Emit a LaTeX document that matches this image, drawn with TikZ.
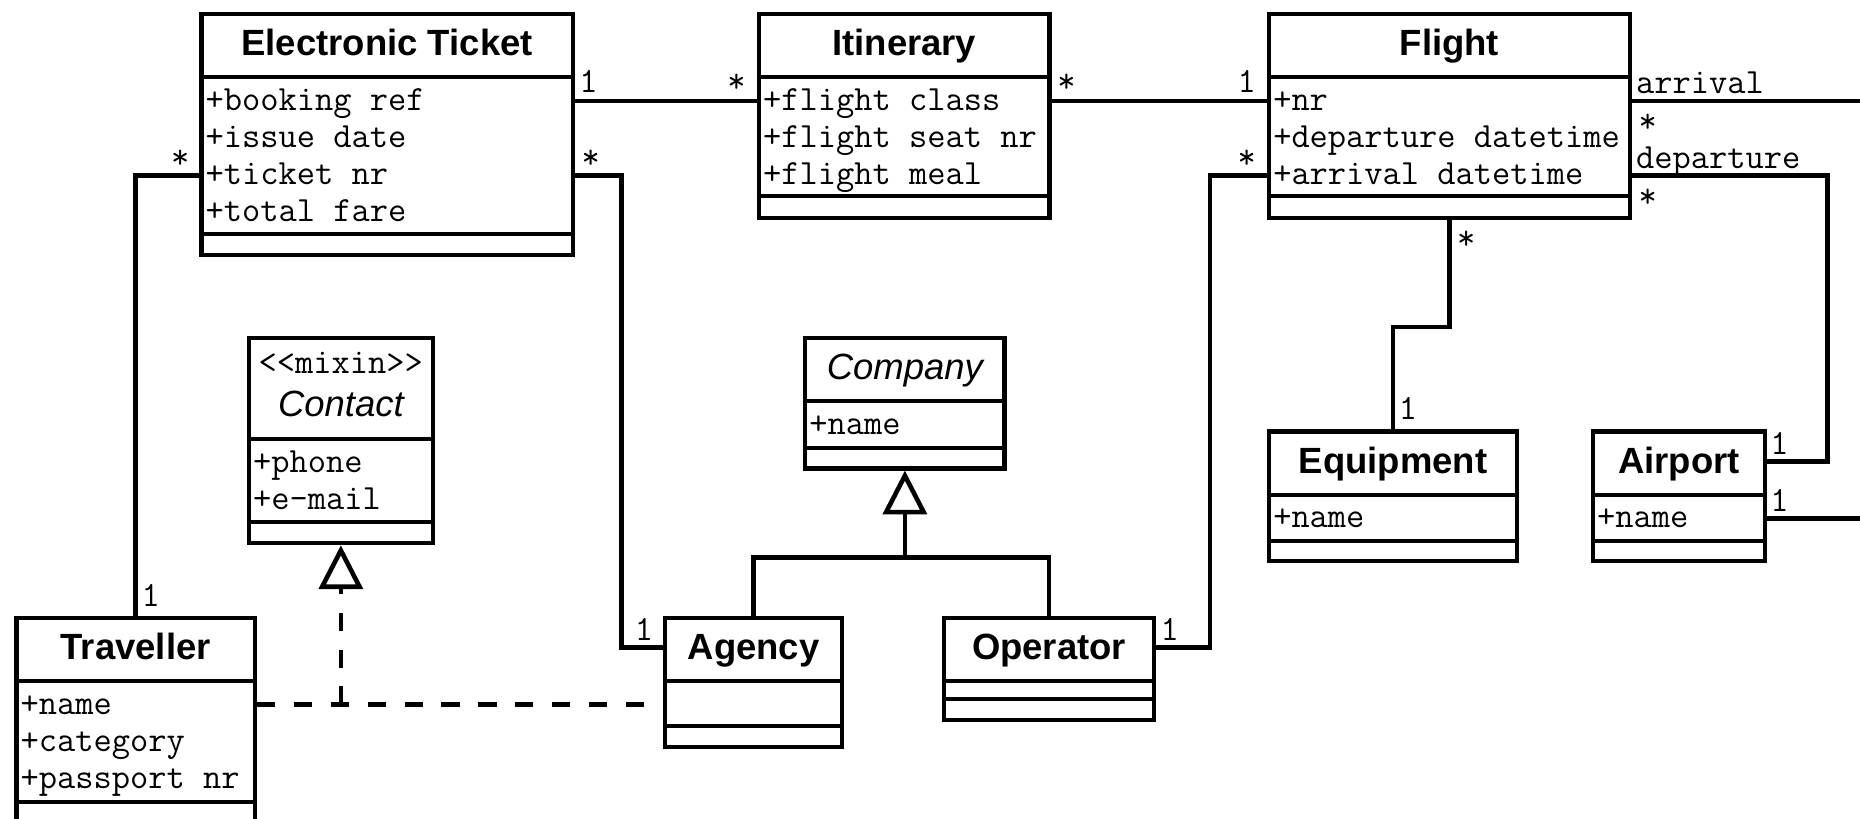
\documentclass[tikz,border=0pt]{standalone}
\usepackage{fontspec}
\setmainfont{Liberation Sans}
\usetikzlibrary{arrows.meta}

\tikzset{
    kasten/.style={draw, line width=2.1pt, inner sep=0pt, anchor=north west},
    trenn/.style={line width=2pt},
    titel/.style={font=\fontsize{17.5}{20}\selectfont\bfseries, anchor=base, inner sep=0pt},
    kursiv/.style={font=\fontsize{17.5}{20}\selectfont\itshape, anchor=base, inner sep=0pt},
    attr/.style={font=\fontsize{17}{19}\selectfont\ttfamily, anchor=base west, inner sep=0pt},
    mult/.style={font=\fontsize{17}{19}\selectfont\ttfamily, inner sep=0pt},
    assoc/.style={line width=2.2pt},
    erbt/.style={line width=2.2pt, -{Triangle[open, length=21pt, width=21pt]}},
    gestrichelt/.style={line width=2.2pt, dash pattern=on 8.7pt off 9pt},
}

\begin{document}
\begin{tikzpicture}[x=0.02cm, y=-0.02cm]
            % Pixelgröße
            \def\s{0.02cm}

            \useasboundingbox (0,0) rectangle (1568,690);
            \clip (0,0) rectangle (1568,690);

            % Klassen: Name/links/oben/rechts/unten/Trennlinie Attribute/Trennlinie Methoden
            \foreach \n/\xa/\ya/\xb/\yb/\yh/\yo in {
                    ticket/168/10/481/213/65/197,
                    itinerary/638/10/883/182/65/165,
                    flight/1068/10/1372/182/65/165,
                    contact/208/283/363/456/370/440,
                    company/677/283/845/393/338/378,
                    equipment/1068/362/1277/471/417/456,
                    airport/1341/362/1486/471/417/456,
                    traveller/12/519/213/692/574/676,
                    agency/559/519/708/628/574/612,
                    operator/794/519/971/605/574/589} {
                \node[kasten, minimum width={(\xb-\xa)*\s}, minimum height={(\yb-\ya)*\s}] (\n) at (\xa,\ya) {};
                \draw[trenn] (\xa,\yh) -- (\xb,\yh);
                \draw[trenn] (\xa,\yo) -- (\xb,\yo);
            }

            % Klassennamen
            \foreach \n/\t in {ticket/Electronic Ticket, itinerary/Itinerary, flight/Flight,
                    equipment/Equipment, airport/Airport, traveller/Traveller,
                    agency/Agency, operator/Operator} {
                \node[titel] (\n-titel) at ([yshift={-37*\s}]\n.north) {\t};
            }
            \node[mult, anchor=base] (contact-stereo) at ([yshift={-32*\s}]contact.north) {<<mixin>>};
            \node[kursiv] (contact-titel) at ([yshift={-68*\s}]contact.north) {Contact};
            \node[kursiv] (company-titel) at ([yshift={-37*\s}]company.north) {Company};

            % Attribute eintragen
            \foreach \n/\xa/\yh/\liste in {
                    ticket/168/65/{+booking ref,+issue date,+ticket nr,+total fare},
                    itinerary/638/65/{+flight class,+flight seat nr,+flight meal},
                    flight/1068/65/{+nr,+departure datetime,+arrival datetime},
                    contact/208/370/{+phone,+e-mail},
                    company/677/338/{+name},
                    equipment/1068/417/{+name},
                    airport/1341/417/{+name},
                    traveller/12/574/{+name,+category,+passport nr}} {
                \foreach \a [count=\i from 0] in \liste {
                    \node[attr] (\n-a\i) at ({\xa+5},{\yh+28+31.2*\i}) {\a};
                }
            }

            % Assoziationen
            \draw[assoc] (ticket.east |- 0,85) -- (itinerary.west |- 0,85);
            \draw[assoc] (itinerary.east |- 0,85) -- (flight.west |- 0,85);
            \draw[assoc] (ticket.west |- 0,148) -| (traveller.north);
            \draw[assoc] (ticket.east |- 0,148) -- ++(39,0) |- (agency.west |- 0,546);
            \draw[assoc] (flight.west |- 0,148) -- ++(-48,0) |- (operator.east |- 0,546);
            \draw[assoc] (flight.south) -- ++(0,90) -| (equipment.north);
            \draw[assoc] (flight.east |- 0,148) -- ++(165,0) |- (airport.east |- 0,389);
            \draw[assoc] (flight.east |- 0,85) -- ++(250,0) |- (airport.east |- 0,437);

            % Multiplizitäten und Rollen
            \foreach \n/\x/\y/\seite/\t in {
                    m1/488/78/west/1, m2/629/78/east/*, m3/891/78/west/*, m4/1059/78/east/1,
                    m5/160/142/east/*, m6/119/511/west/1, m7/490/142/west/*, m8/551/540/east/1,
                    m9/1059/142/east/*, m10/978/540/west/1, m11/1228/210/west/*, m12/1179/354/west/1,
                    m13/1379/79/west/arrival, m14/1381/112/west/*, m15/1379/142/west/departure,
                    m16/1381/175/west/*, m17/1492/383/west/1, m18/1492/431/west/1} {
                \node[mult, anchor=base \seite] (\n) at (\x,\y) {\t};
            }

            % Vererbung
            \coordinate (gabel) at (company.south |- 0,470);
            \draw[assoc] (agency.north) |- (gabel) -| (operator.north);
            \draw[erbt] (gabel) -- (company.south);

            % Realisierung (mixin)
            \coordinate (knoten) at (contact.south |- 0,594);
            \draw[gestrichelt] (traveller.east |- 0,594) -- (agency.west |- 0,594);
            \draw[erbt, gestrichelt] (knoten) -- (contact.south);
        \end{tikzpicture}
\end{document}
